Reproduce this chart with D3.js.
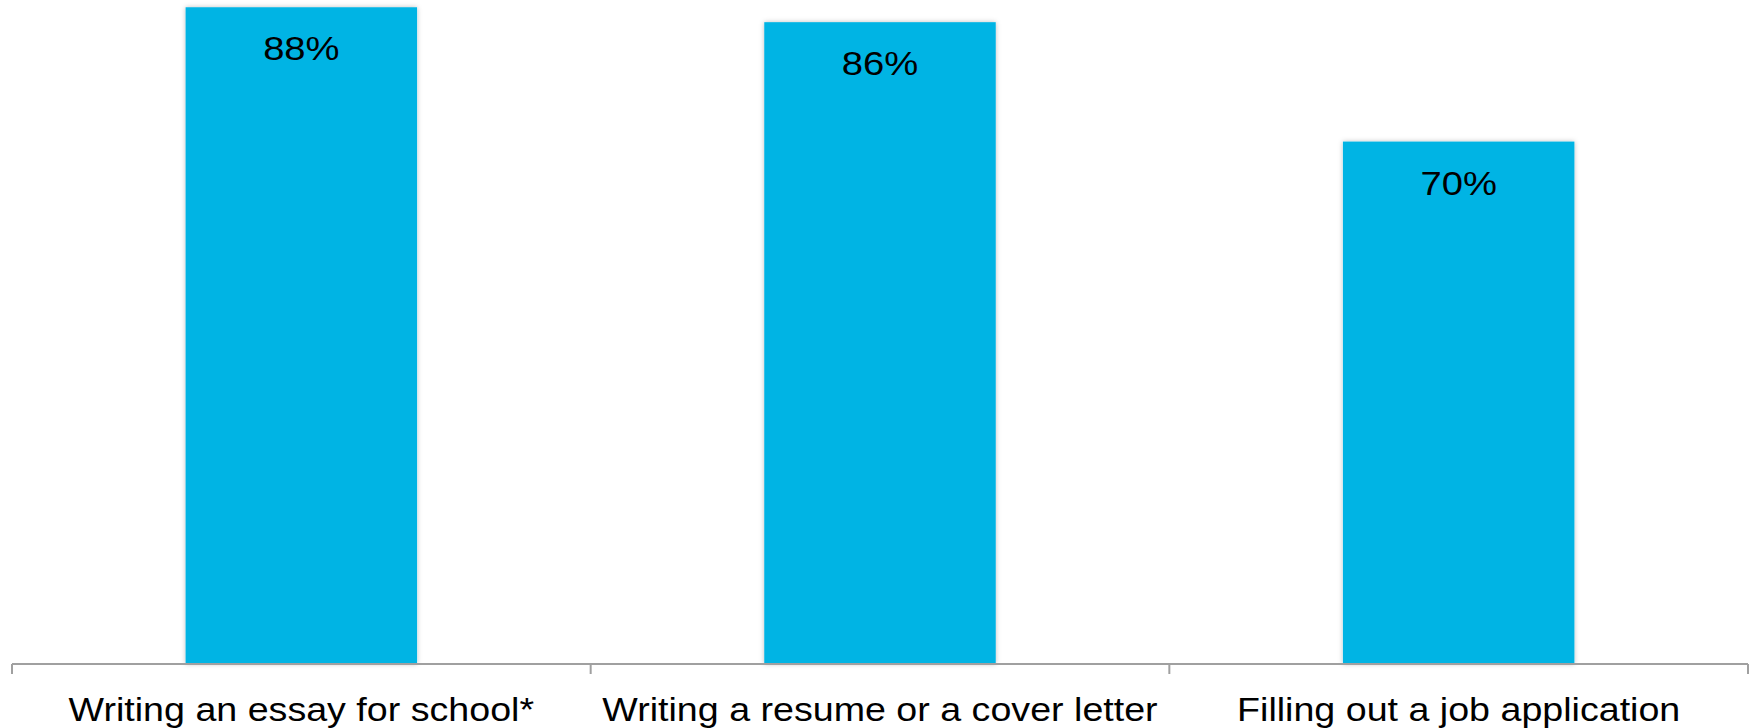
<!DOCTYPE html>
<html>
<head>
<meta charset="utf-8">
<script src="https://cdn.jsdelivr.net/npm/d3@7/dist/d3.min.js"></script>
<style>
  html, body { margin: 0; padding: 0; background: #fff; }
  svg { display: block; }
  text { font-family: Helvetica, Arial, "Liberation Sans", sans-serif; fill: #000; }
</style>
</head>
<body>
<svg id="chart" width="1754" height="728"></svg>
<script>
const categories = ["Writing an essay for school*", "Writing a resume or a cover letter", "Filling out a job application"];
const values = [88, 86, 70];
const valueLabels = ["88%", "86%", "70%"];

const W = 1754, H = 728;
const axisY = 664;
const left = 12, right = 1748;
const stretch = 1.14;

const svg = d3.select("#chart");

const defs = svg.append("defs");
const f = defs.append("filter").attr("id", "shadow").attr("x", "-5%").attr("y", "-5%").attr("width", "110%").attr("height", "110%");
f.append("feDropShadow").attr("dx", 0).attr("dy", 0).attr("stdDeviation", 2.5)
  .attr("flood-color", "#000").attr("flood-opacity", 0.25);

const x = d3.scaleBand().domain(categories).range([left, right]).paddingInner(0.6).paddingOuter(0.3);
const y = d3.scaleLinear().domain([0, 100]).range([axisY, axisY - 746.3]);

const g = svg.append("g");

g.selectAll("rect.bar").data(categories).join("rect")
  .attr("class", "bar")
  .attr("x", d => x(d))
  .attr("y", (d, i) => y(values[i]))
  .attr("width", x.bandwidth())
  .attr("height", (d, i) => y(0) - y(values[i]))
  .attr("fill", "#00B4E4")
  .attr("filter", "url(#shadow)");

g.selectAll("text.val").data(categories).join("text")
  .attr("class", "val")
  .attr("transform", (d, i) => `translate(${x(d) + x.bandwidth() / 2},${y(values[i]) + 53}) scale(${stretch},1)`)
  .attr("text-anchor", "middle")
  .attr("font-size", 33.5)
  .text((d, i) => valueLabels[i]);

// axis
const axis = d3.axisBottom(x).tickSize(0).tickFormat(d => d);
const ax = g.append("g").attr("transform", `translate(0,${axisY})`).call(axis);
ax.select(".domain").attr("stroke", "#A0A0A0").attr("stroke-width", 2).attr("d", `M${left},0H${right}`);
ax.selectAll(".tick text").attr("font-size", 33).attr("dy", 0).attr("y", 0)
  .attr("transform", `translate(0,57) scale(${stretch},1)`)
  .style("font-family", "Helvetica, Arial, 'Liberation Sans', sans-serif").attr("fill", "#000");

// boundary ticks
const boundaries = d3.range(categories.length + 1).map(i => left + i * x.step());
ax.selectAll("line.bt").data(boundaries).join("line")
  .attr("class", "bt")
  .attr("x1", d => d).attr("x2", d => d)
  .attr("y1", 0).attr("y2", 10)
  .attr("stroke", "#A0A0A0").attr("stroke-width", 2);
</script>
</body>
</html>
